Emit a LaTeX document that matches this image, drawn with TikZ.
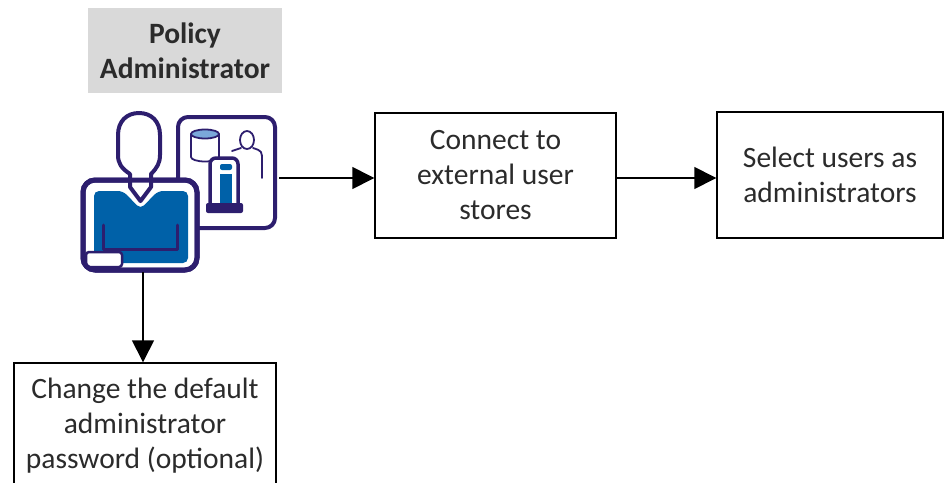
\documentclass[tikz,border=0pt]{standalone}
\usepackage{fontspec}
\setmainfont{Carlito}
\usetikzlibrary{arrows.meta}
\definecolor{iconpurple}{HTML}{2D1E6E}
\definecolor{iconblue}{HTML}{0061A8}
\definecolor{iconlight}{HTML}{7BA8DA}
\definecolor{labelgray}{HTML}{D9D9D9}
\definecolor{txt}{HTML}{2B2B2B}
\tikzset{
  stepbox/.style={draw=black, line width=1.4pt, fill=white, align=center,
    text=txt, font=\fontsize{29.5}{35}\selectfont, inner sep=0pt},
  rolelabel/.style={fill=labelgray, align=center, text=txt,
    font=\fontsize{29.5}{35}\selectfont\bfseries, inner sep=0pt,
    minimum width=194pt, minimum height=85pt},
  flow/.style={draw=black, line width=1.4pt, -{Triangle[length=22pt,width=22pt]}},
  outline/.style={draw=iconpurple, line join=round, line cap=round},
}
\begin{document}
\begin{tikzpicture}[x=1pt,y=-1pt]
\useasboundingbox (0,0) rectangle (945,482);

% role label
\node[rolelabel] (role) at (185,50.5) {Policy\\Administrator};

% process steps
\node[stepbox, minimum width=241pt, minimum height=125pt] (connect) at (495.5,175.5)
  {Connect to\\external user\\stores};
\node[stepbox, minimum width=226pt, minimum height=126pt] (select) at (830,175)
  {Select users as\\administrators};
\node[stepbox, minimum width=262pt, minimum height=126pt] (pwd) at (145,426)
  {Change the default\\administrator\\password (optional)};

% administrator icon: console panel behind the person
\draw[outline, line width=4pt, rounded corners=10pt] (178,117) rectangle (275,228);
% database cylinder
\draw[outline, line width=1.8pt, fill=white] (191,134) -- (191,157)
  arc[start angle=180, end angle=0, x radius=14, y radius=4.5] -- (219,134);
\draw[outline, line width=1.8pt, fill=iconlight] (205,134) ellipse[x radius=14, y radius=4.5];
% small user figure
\draw[outline, line width=1.8pt] (247,140) ellipse[x radius=7, y radius=9];
\draw[outline, line width=1.8pt] (241,148) .. controls (237,150) .. (232,151);
\draw[outline, line width=1.8pt] (253,148) .. controls (262,151) .. (262,161) -- (262,178);
% server tower
\draw[outline, line width=3.5pt, fill=white, rounded corners=6pt] (210,205) -- (210,158) -- (238,158) -- (238,205);
\fill[iconblue, rounded corners=2pt] (220,164) rectangle (232,170);
\fill[iconblue] (220,174) rectangle (232,203);
\fill[iconpurple, rounded corners=2pt] (206,203) rectangle (243,213);

% person body
\draw[outline, line width=5pt, fill=white, rounded corners=12pt] (83,180) rectangle (197,270);
\fill[iconblue, rounded corners=5pt] (94,191) -- (123,191) -- (140.5,209) -- (158,191)
  -- (188,191) -- (188,263) -- (94,263) -- cycle;
% head and neck
\draw[outline, line width=4pt, fill=white] (130,187) -- (130,174)
  .. controls (121,168) and (118,163) .. (118,155) -- (118,135)
  .. controls (118,121) and (127,113) .. (139,113)
  .. controls (151,113) and (160,121) .. (160,135) -- (160,155)
  .. controls (160,163) and (157,168) .. (151,174) -- (151,187)
  -- (140.5,201) -- cycle;
% arms and cuff
\draw[outline, line width=3pt] (103,225) -- (103,249) -- (177,249) -- (177,225);
\draw[outline, line width=2.5pt, fill=white, rounded corners=3pt] (86,252) rectangle (122,267);
\draw[outline, line width=5pt, rounded corners=12pt] (83,180) rectangle (197,270);

% connection points of the icon
\coordinate (iconR) at (279,178);
\coordinate (iconB) at (143,272);

% connectors
\draw[flow] (iconR) -- (connect.west |- iconR);
\draw[flow] (connect.east |- iconR) -- (select.west |- iconR);
\draw[flow] (iconB) -- (iconB |- pwd.north);
\end{tikzpicture}
\end{document}
